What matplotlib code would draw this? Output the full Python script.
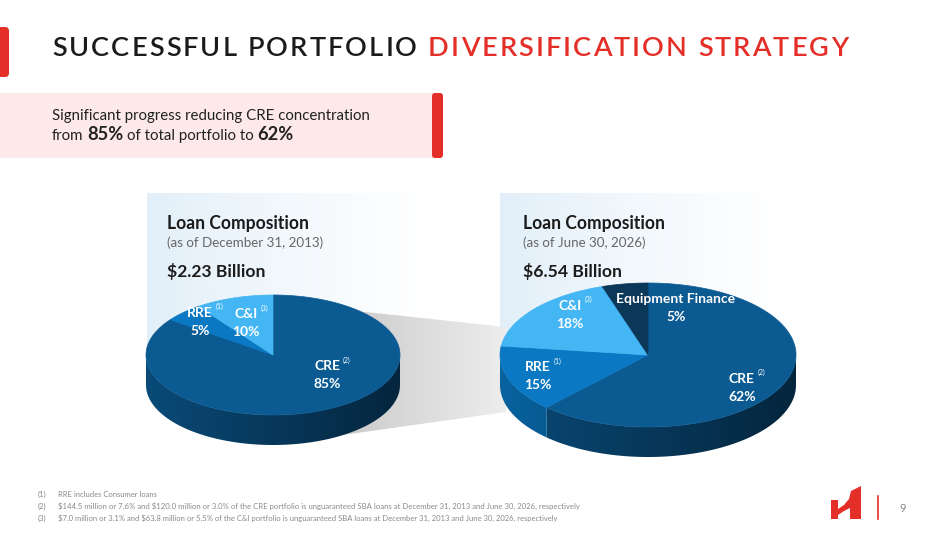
import numpy as np
import matplotlib.pyplot as plt
import matplotlib.colors as mcolors
from matplotlib.patches import Polygon, Rectangle, FancyBboxPatch

plt.rcParams["text.parse_math"] = False

W, H = 949, 534
RED = "#e42f29"
FONT = "Lato"

# chart data
left_labels = ["CRE", "RRE", "C&I"]
left_notes = ["(2)", "(1)", "(3)"]
left_shares = [85, 5, 10]
left_date = "(as of December 31, 2013)"
left_total = "$2.23 Billion"

right_labels = ["CRE", "RRE", "C&I", "Equipment Finance"]
right_notes = ["(2)", "(1)", "(3)", ""]
right_shares = [62, 15, 18, 5]
right_date = "(as of June 30, 2026)"
right_total = "$6.54 Billion"

footnotes = [
    "RRE includes Consumer loans",
    "$144.5 million or 7.6% and $120.0 million or 3.0% of the CRE portfolio is unguaranteed SBA loans at December 31, 2013 and June 30, 2026, respectively",
    "$7.0 million or 3.1% and $63.8 million or 5.5% of the C&I portfolio is unguaranteed SBA loans at December 31, 2013 and June 30, 2026, respectively",
]

slice_colors = {"CRE": "#0b5a92", "RRE": "#0a78c2", "C&I": "#45b6f4",
                "Equipment Finance": "#0b3759"}

fig = plt.figure(figsize=(9.49, 5.34), dpi=100)
ax = fig.add_axes([0, 0, 1, 1])
ax.set_xlim(0, W)
ax.set_ylim(H, 0)
ax.axis("off")
renderer = fig.canvas.get_renderer()


def width_of(t):
    return t.get_window_extent(renderer).width


def fit(x, y, s, width, size=10, **kw):
    # scale the font so the string spans the wanted width
    t = ax.text(x, y, s, fontsize=size, family=FONT, **kw)
    t.set_fontsize(size * width / width_of(t))
    return t


def gradient_box(x0, x1, y0, y1, rgb, power=1.0):
    tx = np.linspace(0, 1, 200)[None, :]
    img = np.zeros((20, 200, 4))
    img[..., :3] = mcolors.to_rgb(rgb)
    img[..., 3] = (1 - tx) ** power
    ax.imshow(img, extent=[x0, x1, y1, y0], origin="upper", aspect="auto",
              interpolation="bilinear", zorder=0)


# title with wide letter spacing
title = [(c, "#1b1b1b") for c in "SUCCESSFUL PORTFOLIO "] + \
        [(c, RED) for c in "DIVERSIFICATION STRATEGY"]
tsize = 19.5
probe = ax.text(0, 0, "II", fontsize=tsize, family=FONT, fontweight="semibold")
probe2 = ax.text(0, 0, "I I", fontsize=tsize, family=FONT, fontweight="semibold")
space_w = width_of(probe2) - width_of(probe)
probe.remove()
probe2.remove()
glyphs = []
for ch, col in title:
    if ch == " ":
        glyphs.append((None, space_w))
    else:
        t = ax.text(0, 56, ch, fontsize=tsize, family=FONT, fontweight="semibold",
                    color=col, va="baseline")
        glyphs.append((t, width_of(t)))
track = (848 - 52 - sum(w for _, w in glyphs)) / (len(glyphs) - 1)
x = 52
for t, w in glyphs:
    if t is not None:
        t.set_x(x)
    x += w + track

ax.add_patch(FancyBboxPatch((-8, 27), 17, 50, boxstyle="round,pad=0,rounding_size=4",
                            fc=RED, ec="none"))

# pink highlight box
ax.add_patch(Rectangle((0, 93), 437, 65, fc="#fde9e9", ec="none"))
ax.add_patch(FancyBboxPatch((432, 93), 11, 65, boxstyle="round,pad=0,rounding_size=3",
                            fc=RED, ec="none"))
t1 = fit(52, 120, "Significant progress reducing CRE concentration", 317, 11,
         color="#222222", va="baseline")
nsize = t1.get_fontsize()
pieces = [("from", False), ("85%", True), ("of total portfolio to", False), ("62%", True)]
x = 52
gap = 0.24 * nsize * 100 / 72
for s, bold in pieces:
    t = ax.text(x, 140, s, fontsize=nsize * (1.22 if bold else 1), family=FONT,
                fontweight="bold" if bold else "normal", color="#222222", va="baseline")
    x += width_of(t) + gap

# background panels and connector
gradient_box(147, 440, 193, 370, "#e2eff9", power=1.3)
gradient_box(500, 790, 193, 340, "#e2eff9", power=1.3)

conn = Polygon([(300, 305), (506, 327), (506, 412), (300, 441)], closed=True,
               fc="none", ec="none")
ax.add_patch(conn)
g = np.linspace(0.76, 0.93, 200)[None, :]
gimg = np.dstack([np.repeat(g, 10, axis=0)] * 3)
im = ax.imshow(gimg, extent=[300, 506, 441, 305], origin="upper", aspect="auto",
               interpolation="bilinear", zorder=0.5)
im.set_clip_path(conn)


def ell(cx, cy, rx, ry, phi):
    r = np.radians(phi)
    return cx + rx * np.sin(r), cy - ry * np.cos(r)


def draw_pie(cx, cy, rx, ry, depth, labels, shares, notes, label_pos):
    bounds = np.cumsum([0] + shares) / sum(shares) * 360
    # side walls, shaded darker toward the right
    shade = 0.62 + 0.2 * np.linspace(1, -1, 300)[None, :]
    for lab, a0, a1 in zip(labels, bounds[:-1], bounds[1:]):
        lo, hi = max(a0, 90), min(a1, 270)
        if hi <= lo:
            continue
        phis = np.linspace(lo, hi, int(hi - lo) + 2)
        top = [ell(cx, cy, rx, ry, p) for p in phis]
        bottom = [(px, py + depth) for px, py in top[::-1]]
        side = Polygon(top + bottom, closed=True, fc="none", ec="none")
        ax.add_patch(side)
        base = np.array(mcolors.to_rgb(slice_colors[lab]))
        img = np.clip(np.repeat(shade, 4, axis=0)[..., None] * base, 0, 1)
        sim = ax.imshow(img, extent=[cx - rx, cx + rx, cy + ry + depth, cy - 2],
                        origin="upper", aspect="auto", interpolation="bilinear", zorder=2)
        sim.set_clip_path(side)
    # top faces
    for lab, a0, a1 in zip(labels, bounds[:-1], bounds[1:]):
        phis = np.linspace(a0, a1, int(a1 - a0) + 2)
        pts = [(cx, cy)] + [ell(cx, cy, rx, ry, p) for p in phis]
        c = slice_colors[lab]
        ax.add_patch(Polygon(pts, closed=True, fc=c, ec=c, lw=0.5, zorder=3))
    # labels
    for lab, note, share, a0, a1, (rf, dphi) in zip(labels, notes, shares, bounds[:-1],
                                                   bounds[1:], label_pos):
        lx, ly = ell(cx, cy, rx * rf, ry * rf, (a0 + a1) / 2 + dphi)
        tn = ax.text(lx, ly - 9, lab, fontsize=10, family=FONT, fontweight="bold",
                     color="white", ha="center", va="center", zorder=5)
        ax.text(lx, ly + 9, f"{share}%", fontsize=10, family=FONT, fontweight="bold",
                color="white", ha="center", va="center", zorder=5)
        if note:
            bb = tn.get_window_extent(renderer)
            ax.text(lx + bb.width / 2 + 3, ly - 15, note, fontsize=5, family=FONT,
                    color="white", ha="left", va="center", zorder=5)


draw_pie(273, 355, 127, 60, 30, left_labels, left_shares, left_notes,
         [(0.54, -25), (0.8, -1), (0.57, -4)])
draw_pie(648, 355, 148, 72, 30, right_labels, right_shares, right_notes,
         [(0.78, 14), (0.8, -2), (0.77, 7), (0.68, 25)])

# chart headings
for x0, date, total in [(167, left_date, left_total), (523, right_date, right_total)]:
    fit(x0, 229, "Loan Composition", 142, 13, fontweight="bold", color="#1b1b1b",
        va="baseline")
    ax.text(x0, 247, date, fontsize=9.6, family=FONT, color="#666666", va="baseline")
    ax.text(x0, 277, total, fontsize=12.6, family=FONT, fontweight="bold",
            color="#1b1b1b", va="baseline")

# footnotes
fsize = None
for i, note in enumerate(footnotes):
    y = 497 + 12 * i
    ax.text(38, y, f"({i + 1})", fontsize=fsize or 5.5, family=FONT, color="#8a8a8a",
            va="baseline")
    if i == 1:
        t = fit(58, y, note, 519, 5.5, color="#8a8a8a", va="baseline")
        fsize = t.get_fontsize()
    else:
        ax.text(58, y, note, fontsize=5.5, family=FONT, color="#8a8a8a", va="baseline")

# logo and page number
logo = [(831, 500), (838, 500), (838, 509), (844, 505), (849, 499), (851, 491),
        (861, 486), (861, 519), (850, 519), (850, 508), (844, 511), (838, 515),
        (838, 519), (831, 519)]
ax.add_patch(Polygon(logo, closed=True, fc=RED, ec="none"))
ax.plot([878, 878], [496, 519], color=RED, lw=1.2)
ax.text(903, 508, "9", fontsize=8, family=FONT, color="#888888", ha="center", va="center")

fig.savefig("out.png", dpi=100)
